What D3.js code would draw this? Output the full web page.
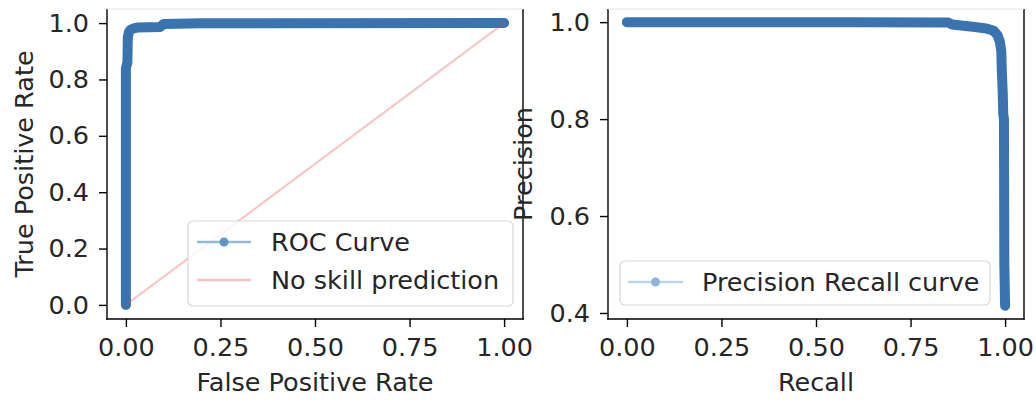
<!DOCTYPE html>
<html>
<head>
<meta charset="utf-8">
<script src="https://cdn.jsdelivr.net/npm/d3@7"></script>
<style>
  html, body { margin: 0; padding: 0; background: #fff; }
  svg { display: block; }
  text { font-family: "DejaVu Sans", sans-serif; fill: #262626; }
</style>
</head>
<body>
<svg id="chart" width="1036" height="400"></svg>
<script>
// ---- data ----
const rocFpr = [0, 0, 0.004, 0.005, 0.008, 0.012, 0.02, 0.03, 0.09, 0.1, 0.2, 1.0];
const rocTpr = [0, 0.84, 0.86, 0.95, 0.968, 0.976, 0.981, 0.984, 0.986, 0.997, 0.999, 1.0];
const noSkillX = [0, 1];
const noSkillY = [0, 1];
const prRecall = [0, 0.3, 0.6, 0.85, 0.86, 0.92, 0.95, 0.97, 0.98, 0.986, 0.99, 0.991, 0.994, 0.995, 0.997, 0.998, 1.0];
const prPrecision = [1.0, 1.0, 1.0, 0.999, 0.995, 0.99, 0.987, 0.982, 0.973, 0.96, 0.94, 0.907, 0.85, 0.812, 0.8, 0.5, 0.415];
const xTicks = [0, 0.25, 0.5, 0.75, 1.0];
const rocYTicks = [0, 0.2, 0.4, 0.6, 0.8, 1.0];
const prYTicks = [0.4, 0.6, 0.8, 1.0];
const legendLeft = ["ROC Curve", "No skill prediction"];
const legendRight = ["Precision Recall curve"];

const svg = d3.select("#chart");
const FS = 25.5;
const curveColor = "#3a74b0";

function makePanel(cfg) {
  const g = svg.append("g");
  const x = d3.scaleLinear().domain(cfg.xDomain).range([cfg.left, cfg.right]);
  const y = d3.scaleLinear().domain(cfg.yDomain).range([cfg.bottom, cfg.top]);
  return { g, x, y };
}

function drawAxes(p, cfg) {
  const xa = p.g.append("g").attr("transform", `translate(0,${cfg.bottom})`)
    .call(d3.axisBottom(p.x).tickValues(xTicks).tickFormat(d3.format(".2f")).tickSize(8).tickPadding(11));
  const ya = p.g.append("g").attr("transform", `translate(${cfg.left},0)`)
    .call(d3.axisLeft(p.y).tickValues(cfg.yTicks).tickFormat(d3.format(".1f")).tickSize(8).tickPadding(10));
  [xa, ya].forEach(a => {
    a.select(".domain").remove();
    a.selectAll("line").attr("stroke", "#000").attr("stroke-width", 1.4);
    a.selectAll("text").style("font-size", FS + "px").style("font-family", "DejaVu Sans").attr("fill", "#262626");
  });
  // spines
  p.g.append("line").attr("x1", cfg.left).attr("x2", cfg.left).attr("y1", cfg.top).attr("y2", cfg.bottom + 0.7).attr("stroke", "#000").attr("stroke-width", 1.4);
  p.g.append("line").attr("x1", cfg.right).attr("x2", cfg.right).attr("y1", cfg.top).attr("y2", cfg.bottom + 0.7).attr("stroke", "#000").attr("stroke-width", 1.4);
  p.g.append("line").attr("x1", cfg.left - 0.7).attr("x2", cfg.right + 0.7).attr("y1", cfg.bottom).attr("y2", cfg.bottom).attr("stroke", "#000").attr("stroke-width", 1.4);
  p.g.append("line").attr("x1", cfg.left).attr("x2", cfg.right).attr("y1", cfg.top).attr("y2", cfg.top).attr("stroke", "#e2e2e2").attr("stroke-width", 1);
}

function legend(g, box, items) {
  g.append("rect").attr("x", box.x).attr("y", box.y).attr("width", box.w).attr("height", box.h)
    .attr("rx", 5).attr("fill", "#fff").attr("fill-opacity", 0.8).attr("stroke", "#d8d8d8").attr("stroke-width", 1.2);
  items.forEach((it, i) => {
    const cy = box.firstY + i * box.step;
    g.append("line").attr("x1", box.lx1).attr("x2", box.lx2).attr("y1", cy).attr("y2", cy)
      .attr("stroke", it.color).attr("stroke-width", 2.5);
    if (it.dot) {
      g.append("circle").attr("cx", (box.lx1 + box.lx2) / 2).attr("cy", cy).attr("r", 4.5).attr("fill", it.dot);
    }
    g.append("text").attr("x", box.tx).attr("y", cy + 9).style("font-size", FS + "px").text(it.label);
  });
}

// ---- Left panel: ROC ----
const cfgL = { left: 107, right: 523, top: 9, bottom: 319, xDomain: [-0.05, 1.05], yDomain: [-0.05, 1.05], yTicks: rocYTicks };
const L = makePanel(cfgL);
const rocData = rocFpr.map((f, i) => [f, rocTpr[i]]);
L.g.append("path").datum(rocData)
  .attr("d", d3.line().x(d => L.x(d[0])).y(d => L.y(d[1])))
  .attr("fill", "none").attr("stroke", curveColor).attr("stroke-width", 10)
  .attr("stroke-linecap", "round").attr("stroke-linejoin", "round");
const nsData = noSkillX.map((v, i) => [v, noSkillY[i]]);
L.g.append("path").datum(nsData)
  .attr("d", d3.line().x(d => L.x(d[0])).y(d => L.y(d[1])))
  .attr("fill", "none").attr("stroke", "#e04545").attr("stroke-opacity", 0.3).attr("stroke-width", 2.2);
drawAxes(L, cfgL);
legend(L.g, { x: 188, y: 221, w: 325, h: 85, firstY: 242, step: 38, lx1: 197, lx2: 251, tx: 271 },
  [{ label: legendLeft[0], color: "#8fbbdc", dot: "#5f97c8" },
   { label: legendLeft[1], color: "#f6c3c3" }]);
L.g.append("text").attr("x", (cfgL.left + cfgL.right) / 2 + 0).attr("y", 391).attr("text-anchor", "middle")
  .style("font-size", FS + "px").text("False Positive Rate");
L.g.append("text").attr("transform", `translate(33,${(L.y(0) + L.y(1)) / 2}) rotate(-90)`).attr("text-anchor", "middle")
  .style("font-size", FS + "px").text("True Positive Rate");

// ---- Right panel: Precision-Recall ----
const cfgR = { left: 608, right: 1024, top: 9, bottom: 319, xDomain: [-0.05, 1.05], yDomain: [0.3876, 1.0271], yTicks: prYTicks };
const R = makePanel(cfgR);
const prData = prRecall.map((r, i) => [r, prPrecision[i]]);
R.g.append("path").datum(prData)
  .attr("d", d3.line().x(d => R.x(d[0])).y(d => R.y(d[1])))
  .attr("fill", "none").attr("stroke", curveColor).attr("stroke-width", 10)
  .attr("stroke-linecap", "round").attr("stroke-linejoin", "round");
drawAxes(R, cfgR);
legend(R.g, { x: 620, y: 261, w: 370, h: 44, firstY: 282, step: 38, lx1: 628, lx2: 683, tx: 702 },
  [{ label: legendRight[0], color: "#bcd5ea", dot: "#8cb5d9" }]);
R.g.append("text").attr("x", (cfgR.left + cfgR.right) / 2).attr("y", 391).attr("text-anchor", "middle")
  .style("font-size", FS + "px").text("Recall");
R.g.append("text").attr("transform", `translate(532,164) rotate(-90)`).attr("text-anchor", "middle")
  .style("font-size", FS + "px").text("Precision");
</script>
</body>
</html>
